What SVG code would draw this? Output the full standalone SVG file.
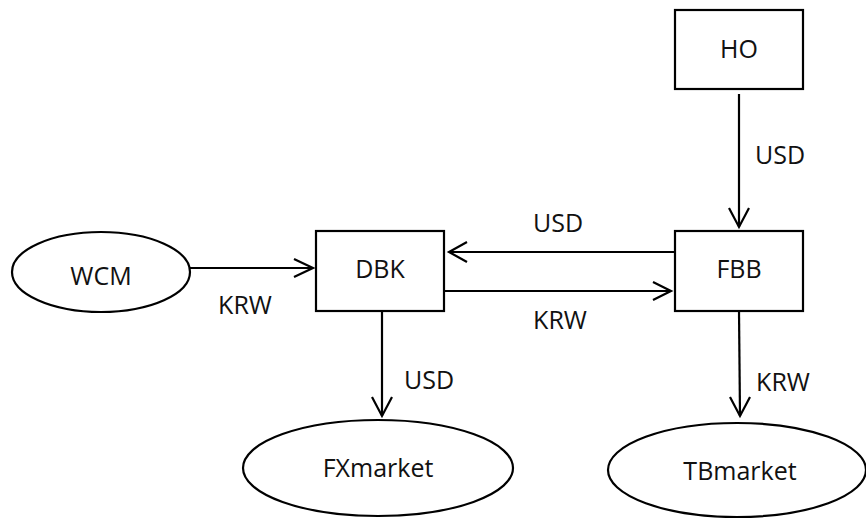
<svg xmlns="http://www.w3.org/2000/svg" width="866" height="519" viewBox="0 0 866 519">
  <style>
    .shape { fill: #ffffff; stroke: #000000; stroke-width: 2.2; }
    .wire { fill: none; stroke: #000000; stroke-width: 2.2; }
    .head { fill: none; stroke: #000000; stroke-width: 2.2; stroke-linejoin: miter; }
    .label { font-family: "Open Sans", "Noto Sans", sans-serif; font-size: 25px; fill: #111111; text-anchor: middle; dominant-baseline: central; }
  </style>
  <rect width="866" height="519" fill="#ffffff"/>

  <!-- nodes -->
  <g id="HO">
    <rect class="shape" x="675" y="10" width="128" height="79"/>
    <text class="label" x="739" y="48">HO</text>
  </g>
  <g id="FBB">
    <rect class="shape" x="675" y="231" width="128" height="80"/>
    <text class="label" x="739" y="268">FBB</text>
  </g>
  <g id="DBK">
    <rect class="shape" x="316" y="231" width="128" height="80"/>
    <text class="label" x="380" y="268">DBK</text>
  </g>
  <g id="WCM">
    <ellipse class="shape" cx="101" cy="272" rx="89" ry="40"/>
    <text class="label" x="101" y="275">WCM</text>
  </g>
  <g id="FXmarket">
    <ellipse class="shape" cx="378" cy="468" rx="135" ry="48"/>
    <text class="label" x="378" y="467">FXmarket</text>
  </g>
  <g id="TBmarket">
    <ellipse class="shape" cx="737" cy="470" rx="129" ry="47"/>
    <text class="label" x="740" y="470">TBmarket</text>
  </g>

  <!-- connectors -->
  <g id="connectors">
    <!-- HO to FBB -->
    <line class="wire" x1="739" y1="94" x2="739" y2="227"/>
    <polyline class="head" points="729,208 739,227 749,208"/>
    <text class="label" x="780" y="154">USD</text>

    <!-- FBB to DBK -->
    <line class="wire" x1="675" y1="252" x2="449" y2="252"/>
    <polyline class="head" points="467,242 449,252 467,262"/>
    <text class="label" x="558" y="222">USD</text>

    <!-- DBK to FBB -->
    <line class="wire" x1="444" y1="291" x2="671" y2="291"/>
    <polyline class="head" points="653,282 671,291 653,300"/>
    <text class="label" x="560" y="319">KRW</text>

    <!-- WCM to DBK -->
    <line class="wire" x1="190" y1="268" x2="313" y2="268"/>
    <polyline class="head" points="294,259 313,268 294,277"/>
    <text class="label" x="245" y="304">KRW</text>

    <!-- DBK to FXmarket -->
    <line class="wire" x1="382" y1="311" x2="382" y2="416"/>
    <polyline class="head" points="372,397 382,416 392,397"/>
    <text class="label" x="429" y="379">USD</text>

    <!-- FBB to TBmarket -->
    <line class="wire" x1="739" y1="311" x2="740" y2="416"/>
    <polyline class="head" points="730,397 740,416 750,397"/>
    <text class="label" x="783" y="381">KRW</text>
  </g>
</svg>
